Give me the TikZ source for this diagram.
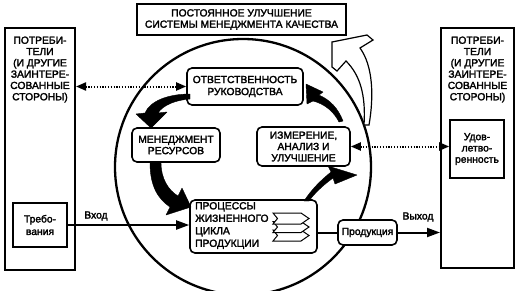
\documentclass[tikz,border=0pt]{standalone}
\usepackage{fontspec}
\setmainfont{Liberation Sans}[FakeBold=2.2]
\usetikzlibrary{arrows.meta}
\begin{document}
\begin{tikzpicture}[x=1pt,y=-1pt,
  every node/.style={font=\fontsize{10.3}{11.3}\selectfont, inner sep=0pt},
  sq/.style={draw, line width=1.6pt, fill=white, align=center},
  rnd/.style={sq, rounded corners=5pt},
  blk/.style={fill=black, draw=black, line width=0.4pt, line join=round},
  dotarr/.style={line width=2pt, dash pattern=on 1.3pt off 1.5pt, {Triangle[length=10pt,width=8pt]}-{Triangle[length=10pt,width=8pt]}},
  solarr/.style={line width=2pt, -{Triangle[length=13pt,width=9pt]}},
  flagpic/.pic={\draw[fill=white, line width=1pt, line join=miter] (0,0) -- (28,0) -- (36,5.5) -- (28,11) -- (0,11) -- (4.5,5.5) -- cycle;}
]
\useasboundingbox (0,0) rectangle (516,290);
\fill[white] (0,0) rectangle (516,290);
\clip (0,0) rectangle (516,290);

% big circle
\draw[line width=2.3pt] (243,167) circle[radius=128pt];

% boxes
\node[sq, minimum width=209pt, minimum height=31pt] (top) at (241.5,19.5) {ПОСТОЯННОЕ УЛУЧШЕНИЕ\\СИСТЕМЫ МЕНЕДЖМЕНТА КАЧЕСТВА};
\node[sq, line width=2pt, minimum width=70pt, minimum height=242pt] (leftbox) at (40,149) {};
\node[align=center] (lefttxt) at (40,69.5) {ПОТРЕБИ-\\ТЕЛИ\\(И ДРУГИЕ\\ЗАИНТЕРЕ-\\СОВАННЫЕ\\СТОРОНЫ)};
\node[sq, minimum width=54pt, minimum height=44pt, font=\fontsize{10.3}{12.5}\selectfont] (treb) at (40,225) {Требо-\\вания};
\node[sq, line width=2pt, minimum width=73pt, minimum height=240pt] (rightbox) at (477.5,148) {};
\node[align=center] (righttxt) at (477.5,69.5) {ПОТРЕБИ-\\ТЕЛИ\\(И ДРУГИЕ\\ЗАИНТЕРЕ-\\СОВАННЫЕ\\СТОРОНЫ)};
\node[sq, minimum width=54pt, minimum height=58pt] (udov) at (477,149) {Удов-\\летво-\\ренность};

\node[rnd, minimum width=116pt, minimum height=37pt, font=\fontsize{10.3}{12}\selectfont] (otv) at (245,86.5) {ОТВЕТСТВЕННОСТЬ\\РУКОВОДСТВА};
\node[rnd, minimum width=88pt, minimum height=34pt] (men) at (176,145) {МЕНЕДЖМЕНТ\\РЕСУРСОВ};
\node[rnd, minimum width=93pt, minimum height=39pt] (izm) at (303.5,146.5) {ИЗМЕРЕНИЕ,\\АНАЛИЗ И\\УЛУЧШЕНИЕ};
\node[rnd, minimum width=127pt, minimum height=53pt] (proc) at (253.5,226.5) {};
\node[anchor=west, align=left, font=\fontsize{10.3}{12.5}\selectfont] (proctxt) at (195,225.5) {ПРОЦЕССЫ\\ЖИЗНЕННОГО\\ЦИКЛА\\ПРОДУКЦИИ};
\node[rnd, minimum width=59pt, minimum height=25pt] (prod) at (367.5,232.5) {Продукция};

% stacked flags in process box
\pic at (273,230) {flagpic};
\pic at (273,221.5) {flagpic};
\pic at (273,213) {flagpic};

% black curved arrows
\path[blk] (190,94) .. controls (168,94) and (150,101) .. (145,113) -- (136,114) -- (151,128) -- (167,112) -- (158,113) .. controls (163,105) and (176,100) .. (190,99) -- cycle;
\path[blk] (150,163) .. controls (150,186) and (158,199) .. (170,207) -- (166,215) -- (191,207) -- (182,188) -- (178,196) .. controls (168,190) and (161,178) .. (161,163) -- cycle;
\path[blk] (304,201) .. controls (312,189) and (320,181) .. (331,172) -- (328,166) -- (357,175) -- (335,184) -- (333,178) .. controls (322,186) and (314,194) .. (309,201) -- cycle;
\path[blk] (339,122) .. controls (334,112) and (325,104) .. (313,101) -- (307,104) -- (306,84) -- (323,92) -- (319,95) .. controls (330,100) and (338,108) .. (343,121) -- cycle;

% hollow arrow
\draw[fill=white, line width=1.2pt, line join=miter] (364,125) .. controls (366,95) and (360,75) .. (346,61) -- (337,71) -- (332,67) -- (332,42) -- (367,35) -- (373,40) -- (360,48) .. controls (373,66) and (374,96) .. (369,125) -- cycle;

% connectors
\draw[dotarr] (leftbox.east |- otv.west) -- (otv.west);
\draw[dotarr] (izm.east) -- (izm.east -| udov.west);
\draw[solarr] (treb.east) -- (treb.east -| proc.west);
\draw[line width=2pt] (proc.east |- prod.west) -- (prod.west);
\draw[solarr] (prod.east) -- (prod.east -| rightbox.west);

% labels
\node (vhod) at (96,216) {Вход};
\node (vyhod) at (418,217) {Выход};
\end{tikzpicture}
\end{document}
